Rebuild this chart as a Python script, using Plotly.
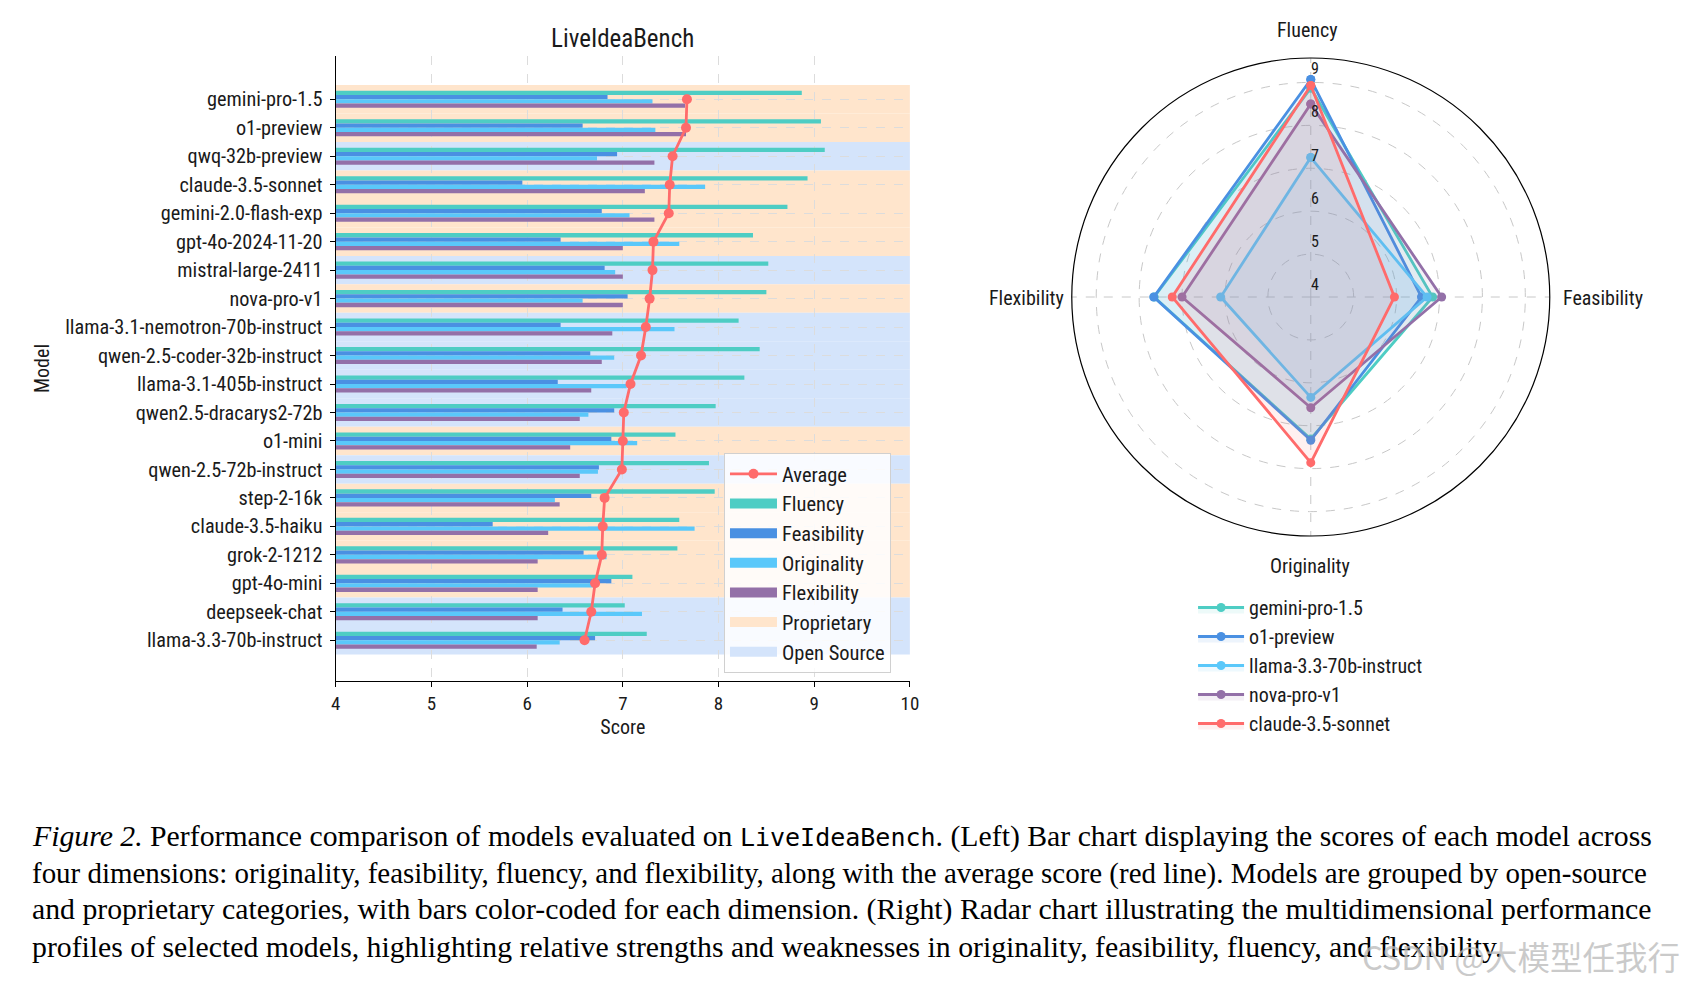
import plotly.graph_objects as go

# ---------------- data ----------------
models = ["gemini-pro-1.5", "o1-preview", "qwq-32b-preview", "claude-3.5-sonnet",
          "gemini-2.0-flash-exp", "gpt-4o-2024-11-20", "mistral-large-2411", "nova-pro-v1",
          "llama-3.1-nemotron-70b-instruct", "qwen-2.5-coder-32b-instruct",
          "llama-3.1-405b-instruct", "qwen2.5-dracarys2-72b", "o1-mini",
          "qwen-2.5-72b-instruct", "step-2-16k", "claude-3.5-haiku", "grok-2-1212",
          "gpt-4o-mini", "deepseek-chat", "llama-3.3-70b-instruct"]
model_type = ["P", "P", "O", "P", "P", "P", "O", "P", "O", "O", "O", "O", "P", "O",
              "P", "P", "P", "P", "O", "O"]
fluency = [8.87, 9.07, 9.11, 8.93, 8.72, 8.36, 8.52, 8.50, 8.21, 8.43, 8.27, 7.97,
           7.55, 7.90, 7.96, 7.59, 7.57, 7.10, 7.02, 7.25]
feasibility = [6.84, 6.58, 6.94, 5.95, 6.78, 6.35, 6.81, 7.05, 6.35, 6.66, 6.32, 6.91,
               6.88, 6.75, 6.67, 5.64, 6.59, 6.88, 6.37, 6.71]
originality = [7.31, 7.34, 6.73, 7.86, 7.07, 7.59, 6.92, 6.58, 7.54, 6.91, 7.04, 6.64,
               7.15, 6.74, 6.29, 7.75, 6.83, 6.69, 7.20, 6.34]
flexibility = [7.65, 7.66, 7.33, 7.23, 7.33, 7.00, 7.00, 7.00, 6.89, 6.78, 6.67, 6.55,
               6.45, 6.55, 6.34, 6.22, 6.11, 6.11, 6.11, 6.10]
average = [7.67, 7.66, 7.52, 7.49, 7.48, 7.32, 7.31, 7.28, 7.24, 7.19, 7.08, 7.01,
           7.00, 6.99, 6.81, 6.79, 6.78, 6.71, 6.67, 6.60]

dimensions = ["Fluency", "Feasibility", "Originality", "Flexibility"]
radar_models = ["gemini-pro-1.5", "o1-preview", "llama-3.3-70b-instruct",
                "nova-pro-v1", "claude-3.5-sonnet"]
x_ticks = [4, 5, 6, 7, 8, 9, 10]
r_ticks = [4, 5, 6, 7, 8, 9]
group_names = {"P": "Proprietary", "O": "Open Source"}

caption_lines = [
    "<i>Figure 2.</i> Performance comparison of models evaluated on "
    "<span style='font-family:DejaVu Sans Mono;font-size:25px'>LiveIdeaBench</span>. "
    "(Left) Bar chart displaying the scores of each model across",
    "four dimensions: originality, feasibility, fluency, and flexibility, along with the "
    "average score (red line). Models are grouped by open-source",
    "and proprietary categories, with bars color-coded for each dimension. (Right) Radar "
    "chart illustrating the multidimensional performance",
    "profiles of selected models, highlighting relative strengths and weaknesses in "
    "originality, feasibility, fluency, and flexibility.",
]
caption_sizes = [29.75, 28.95, 29.75, 29.75]

# ---------------- styles ----------------
W, H = 1687, 987
FONT = "Roboto Condensed, Liberation Sans Narrow, Roboto, sans-serif"
TXT = "#1a1a1a"
dim_colors = {"Fluency": "#4ECDC4", "Feasibility": "#4A90E2",
              "Originality": "#5AC8FA", "Flexibility": "#9370A8"}
radar_colors = ["#4ECDC4", "#4A90E2", "#5AC8FA", "#9370A8", "#FF6B6B"]
radar_fill = ["rgba(78,205,196,0.10)", "rgba(74,144,226,0.10)", "rgba(90,200,250,0.10)",
              "rgba(147,112,168,0.10)", "rgba(255,107,107,0.10)"]
band_colors = {"P": "#FFE5CC", "O": "#D4E4FB"}
avg_color = "#FF6B6B"
bar_w = 0.15
offsets = {"Fluency": 0.15, "Feasibility": 0.0, "Originality": -0.15, "Flexibility": -0.30}

fig = go.Figure()

values = {"Fluency": fluency, "Feasibility": feasibility,
          "Originality": originality, "Flexibility": flexibility}
for k, d in enumerate(dimensions):
    fig.add_trace(go.Bar(
        y=models, x=values[d], base=0, orientation="h", name=d,
        marker=dict(color=dim_colors[d], line=dict(width=0)),
        width=bar_w, offset=offsets[d], showlegend=False,
        xaxis="x", yaxis="y"))
    # wide rectangular legend swatch
    fig.add_trace(go.Scatter(
        x=[None], y=[None], mode="lines", name=d,
        line=dict(color=dim_colors[d], width=15), legend="legend", legendrank=2 + k))

for k, t in enumerate(["P", "O"]):
    fig.add_trace(go.Scatter(
        x=[None], y=[None], mode="lines", name=group_names[t],
        line=dict(color=band_colors[t], width=15), legend="legend", legendrank=6 + k))

fig.add_trace(go.Scatter(
    y=models, x=average, mode="lines+markers", name="Average",
    line=dict(color=avg_color, width=2.8),
    marker=dict(color=avg_color, size=10), legend="legend", legendrank=1))

# background bands for group membership
order = models[::-1]
for m, t in zip(models, model_type):
    i = order.index(m)
    fig.add_shape(type="rect", xref="x", yref="y", x0=4, x1=10,
                  y0=i - 0.5, y1=i + 0.5, fillcolor=band_colors[t],
                  line=dict(width=0), layer="below")

# ---------------- radar ----------------
for k, m in enumerate(radar_models):
    i = models.index(m)
    r = [fluency[i], feasibility[i], originality[i], flexibility[i]]
    fig.add_trace(go.Scatterpolar(
        r=r + r[:1], theta=dimensions + dimensions[:1], name=m,
        mode="lines+markers", fill="toself", fillcolor=radar_fill[k],
        line=dict(color=radar_colors[k], width=2.8),
        marker=dict(color=radar_colors[k], size=9), legend="legend2",
        subplot="polar"))

R_MAX = 9.57
pol_x = [1075.7 / W, 1557.7 / W]
pol_y = [(H - 297 - 241) / H, (H - 297 + 241) / H]

annotations = []
cx = (pol_x[0] + pol_x[1]) / 2
cy = (pol_y[0] + pol_y[1]) / 2
for v in r_ticks:
    annotations.append(dict(
        x=cx + 4 / W, y=cy + ((v - 4) / (R_MAX - 4) * 241 + 12) / H,
        xref="paper", yref="paper", text=str(v), showarrow=False,
        font=dict(size=16, color=TXT, family=FONT), xanchor="center", yanchor="middle"))
ang_pos = {"Fluency": (1313, 30), "Feasibility": (1611, 298),
           "Originality": (1316, 566), "Flexibility": (1030, 298)}
for d in dimensions:
    px, py = ang_pos[d]
    annotations.append(dict(
        x=px / W, y=1 - py / H, xref="paper", yref="paper", text=d, showarrow=False,
        font=dict(size=20, color=TXT, family=FONT), xanchor="center", yanchor="middle"))

annotations.append(dict(x=623 / W, y=1 - 39 / H, xref="paper", yref="paper",
                        text="LiveIdeaBench", showarrow=False,
                        font=dict(size=25, color=TXT, family=FONT),
                        xanchor="center", yanchor="middle"))
cap_y = [836, 873, 909, 946]
for line, yy, fs in zip(caption_lines, cap_y, caption_sizes):
    annotations.append(dict(
        x=25 / W, y=1 - yy / H, xref="paper", yref="paper", text=line, showarrow=False,
        font=dict(size=fs, color="#000000", family="Liberation Serif, Times New Roman, serif"),
        xanchor="left", yanchor="middle"))
annotations.append(dict(x=1691 / W, y=1 - 955 / H, xref="paper", yref="paper",
                        text="CSDN @大模型任我行", showarrow=False,
                        font=dict(size=32.5, color="rgba(185,185,185,0.75)",
                                  family="Noto Sans CJK SC, sans-serif"),
                        xanchor="right", yanchor="middle"))

fig.update_layout(
    width=W, height=H, margin=dict(l=0, r=0, t=0, b=0),
    paper_bgcolor="white", plot_bgcolor="white",
    font=dict(family=FONT, color=TXT, size=20),
    barmode="overlay", showlegend=True,
    xaxis=dict(domain=[333.5 / W, 912.5 / W], range=[4, 10], tickvals=x_ticks,
               showgrid=True, gridcolor="#dcdcdc", griddash="dash", gridwidth=1,
               zeroline=False, showline=True, linecolor="black", linewidth=1.3,
               ticks="outside", ticklen=5, tickcolor="black",
               tickfont=dict(size=19), title=dict(text="Score", font=dict(size=20),
                                                  standoff=6),
               anchor="y"),
    yaxis=dict(domain=[(H - 681) / H, (H - 56) / H], type="category",
               categoryorder="array", categoryarray=order, range=[-1.43, 20.52],
               showgrid=True, gridcolor="#dcdcdc", griddash="dash", gridwidth=1,
               zeroline=False, showline=True, linecolor="black", linewidth=1.3,
               ticks="outside", ticklen=5, tickcolor="black", ticklabelstandoff=3,
               tickfont=dict(size=20.3), anchor="x",
               title=dict(text="Model", font=dict(size=20), standoff=10)),
    polar=dict(
        domain=dict(x=pol_x, y=pol_y), bgcolor="white",
        radialaxis=dict(range=[4, R_MAX], tickvals=[5, 6, 7, 8, 9], showticklabels=False,
                        showline=False, ticks="", gridcolor="#c8c8c8", griddash="dash",
                        gridwidth=1, angle=90),
        angularaxis=dict(rotation=90, direction="clockwise", showticklabels=False,
                         ticks="", showline=True, linecolor="black", linewidth=1.2,
                         gridcolor="#c8c8c8", griddash="dash", gridwidth=1)),
    legend=dict(x=725 / W, y=1 - 453 / H, xanchor="left", yanchor="top",
                bgcolor="rgba(255,255,255,0.85)", bordercolor="#d0d0d0", borderwidth=1,
                font=dict(size=20.5, color=TXT), itemwidth=47, traceorder="normal"),
    legend2=dict(x=1198 / W, y=1 - 588 / H, xanchor="left", yanchor="top",
                 bgcolor="rgba(255,255,255,0)", borderwidth=0,
                 font=dict(size=20, color=TXT), itemwidth=46),
    annotations=annotations,
)

fig.write_html("out.html", post_script="document.body.style.margin='0';",
               config={"displayModeBar": False})
